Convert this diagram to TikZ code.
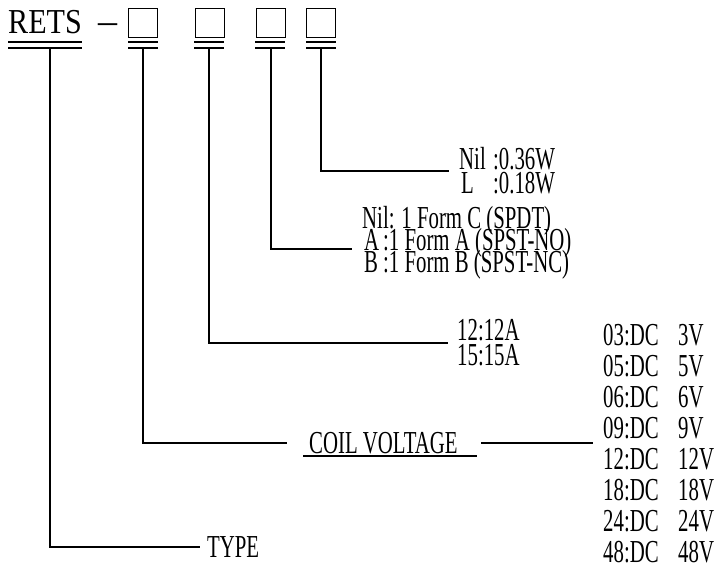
\documentclass[tikz,border=0pt]{standalone}
\usepackage{fontspec}
\setmainfont{Liberation Serif}
\newfontfamily\condfont[FakeStretch=0.65]{Liberation Serif}
\newfontfamily\retsfont[FakeStretch=0.86]{Liberation Serif}
\begin{document}
\begin{tikzpicture}[x=1pt,y=-1pt,
  lbl/.style={anchor=base west, inner sep=0pt, font=\condfont\fontsize{32}{32}\selectfont},
  wire/.style={line width=1.5pt},
  codebox/.style={draw, line width=1pt, minimum width=29pt, minimum height=29pt, inner sep=0pt, anchor=north west},
]
\useasboundingbox (0,0) rectangle (719,563);
% header
\node[anchor=base west, inner sep=0pt, font=\retsfont\fontsize{35}{35}\selectfont] (rets) at (8,33) {RETS};
\node[anchor=base west, inner sep=0pt, font=\fontsize{38}{38}\selectfont] (dash) at (98,33) {–};
\node[codebox] (b1) at (128,8) {};
\node[codebox] (b2) at (194.5,8) {};
\node[codebox] (b3) at (255.5,8) {};
\node[codebox] (b4) at (306,8) {};
% double underlines
\foreach \xa/\xb in {8/82,128/158,194/224,255/285,306/336}{
  \draw[wire] (\xa,42) -- (\xb,42);
  \draw[wire] (\xa,48) -- (\xb,48);
}
% stems
\coordinate (s0) at (50,48);
\coordinate (s1) at (143,48);
\coordinate (s2) at (209,48);
\coordinate (s3) at (271,48);
\coordinate (s4) at (321,48);
\coordinate (e0) at (200,547);
\coordinate (e1) at (287,443);
\coordinate (e2) at (448,343);
\coordinate (e3) at (352,249);
\coordinate (e4) at (449,171);
\draw[wire] (s0) |- (e0);
\draw[wire] (s1) |- (e1);
\draw[wire] (s2) |- (e2);
\draw[wire] (s3) |- (e3);
\draw[wire] (s4) |- (e4);
% wattage
\node[lbl] (w1a) at (459,169) {Nil};
\node[lbl] (w1b) at (493,169) {:0.36W};
\node[lbl] (w2a) at (461,193) {L};
\node[lbl] (w2b) at (493,193) {:0.18W};
% form
\node[lbl] (f1) at (362,228) {Nil: 1 Form C (SPDT)};
\node[lbl] (f2a) at (364,250) {A};
\node[lbl] (f2b) at (383,250) {:1 Form A (SPST-NO)};
\node[lbl] (f3a) at (364,272) {B};
\node[lbl] (f3b) at (383,272) {:1 Form B (SPST-NC)};
% amps
\node[lbl] (a1) at (457,340) {12:12A};
\node[lbl] (a2) at (457,365) {15:15A};
% coil voltage
\node[lbl] (coil) at (309,453) {COIL VOLTAGE};
\coordinate (u1) at (303,456);
\coordinate (u2) at (477,456);
\draw[line width=1.2pt] (u1) -- (u2);
\coordinate (c1) at (481,443);
\coordinate (c2) at (593,443);
\draw[wire] (c1) -- (c2);
% type
\node[lbl] (type) at (207,557) {TYPE};
% voltages
\foreach \code/\v [count=\i from 0] in {03/3,05/5,06/6,09/9,12/12,18/18,24/24,48/48}{
  \node[lbl] (vc\i) at (603,345+31*\i) {\code:DC};
  \node[lbl] (vv\i) at (678,345+31*\i) {\v V};
}
\end{tikzpicture}
\end{document}
